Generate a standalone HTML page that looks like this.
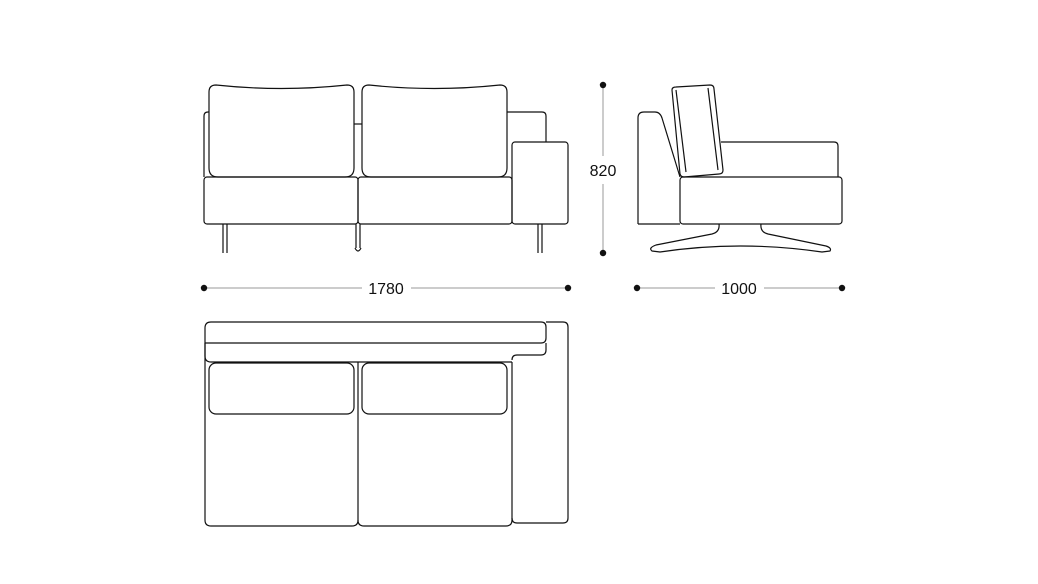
<!DOCTYPE html>
<html><head><meta charset="utf-8"><style>
html,body{margin:0;padding:0;background:#fff;width:1038px;height:584px;overflow:hidden}
svg{display:block}
text{font-family:"Liberation Sans",Arial,sans-serif;font-size:16px;fill:#111}
</style></head><body>
<svg width="1038" height="584" viewBox="0 0 1038 584" xmlns="http://www.w3.org/2000/svg">
<g fill="none" stroke="#111" stroke-width="1.2" stroke-linejoin="round">
<!-- front view -->
<path d="M204 177 V116 Q204 112 208 112 H209"/>
<path d="M354 124 H362"/>
<path d="M507 112 H542 Q546 112 546 116 V142"/>
<path d="M209 92 Q209 85 216 85 Q281 92 347 85 Q354 85 354 92 V168 Q354 177 345 177 H218 Q209 177 209 168 Z"/>
<path d="M362 92 Q362 85 369 85 Q434 92 500 85 Q507 85 507 92 V168 Q507 177 498 177 H371 Q362 177 362 168 Z"/>
<rect x="204" y="177" width="154" height="47" rx="3"/>
<rect x="358" y="177" width="154" height="47" rx="3"/>
<rect x="512" y="142" width="56" height="82" rx="3"/>
<path d="M223 224 V253 M227 224 V253"/>
<path d="M356 224 V248 M360 224 V248"/>
<path d="M355 248 Q358 254 361 248"/>
<path d="M538 224 V253 M542 224 V253"/>
<!-- side view -->
<path d="M638 224 V118 Q638 112 644 112 H655 Q660 112 662 118 L680 177"/>
<path d="M672 90 Q672 87 676 87 L710 85 Q714 85 714 89 L723 170 Q723 174 719 174 L684 177 Q681 177 680 174 Z"/>
<path d="M676 90 L686 172 M708 88 L718 170"/>
<path d="M721 142 H834 Q838 142 838 146 V177"/>
<rect x="680" y="177" width="162" height="47" rx="3"/>
<path d="M638 224 H680"/>
<path d="M719 224 Q720 232 712 234 L656 245 Q648 248 652 251 L660 252 Q740 240 822 252 L830 251 Q832 248 826 246 L768 234 Q760 232 761 224"/>
<!-- top view -->
<path d="M205 343 V520 Q205 526 211 526 H352 Q358 526 358 520 V362"/>
<path d="M358 520 Q358 526 364 526 H506 Q512 526 512 520 V362"/>
<path d="M205 343 V328 Q205 322 211 322 H541 Q546 322 546 327 V338 Q546 343 541 343 H205"/>
<path d="M205 343 V356 Q205 362 211 362 H512 M546 343 V350 Q546 355 541 355 H517 Q512 355 512 360"/>
<path d="M546 322 H563 Q568 322 568 327 V518 Q568 523 563 523 H517 Q512 523 512 518"/>
<rect x="209" y="363" width="145" height="51" rx="7"/>
<rect x="362" y="363" width="145" height="51" rx="7"/>
</g>
<!-- dimensions -->
<g stroke="#999" stroke-width="1">
<line x1="603" y1="85" x2="603" y2="156"/>
<line x1="603" y1="184" x2="603" y2="253"/>
<line x1="204" y1="288" x2="362" y2="288"/>
<line x1="411" y1="288" x2="568" y2="288"/>
<line x1="637" y1="288" x2="715" y2="288"/>
<line x1="764" y1="288" x2="842" y2="288"/>
</g>
<g fill="#111">
<circle cx="603" cy="85" r="3.2"/><circle cx="603" cy="253" r="3.2"/>
<circle cx="204" cy="288" r="3.2"/><circle cx="568" cy="288" r="3.2"/>
<circle cx="637" cy="288" r="3.2"/><circle cx="842" cy="288" r="3.2"/>
</g>
<text x="603" y="176" text-anchor="middle">820</text>
<text x="386" y="294" text-anchor="middle">1780</text>
<text x="739" y="294" text-anchor="middle">1000</text>
</svg>
</body></html>
